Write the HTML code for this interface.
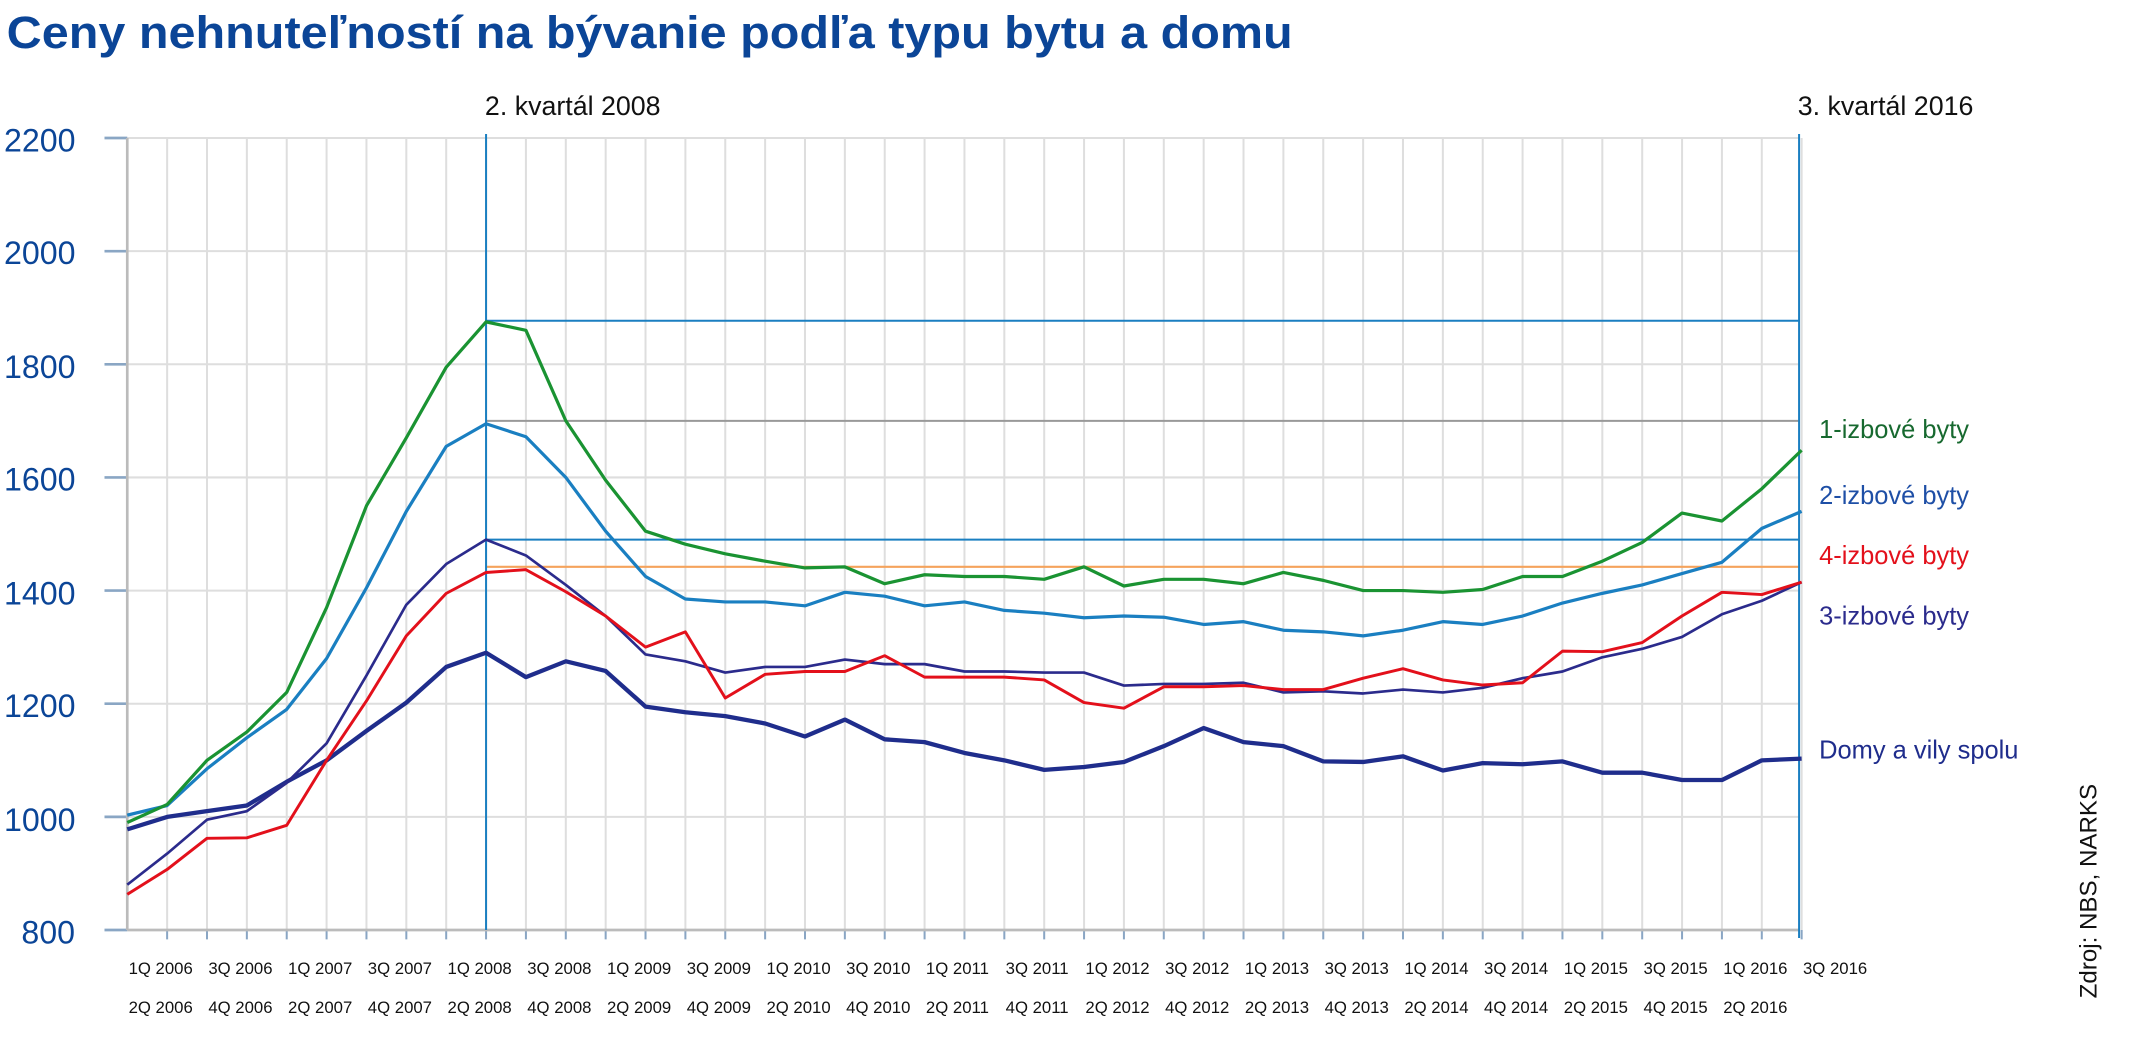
<!DOCTYPE html>
<html><head><meta charset="utf-8"><style>
html,body{margin:0;padding:0;background:#fff;width:2138px;height:1064px;overflow:hidden}
svg{display:block}
text{font-family:"Liberation Sans",sans-serif}
</style></head><body>
<svg id="c" width="2138" height="1064" viewBox="0 0 1596 794" preserveAspectRatio="none" xmlns="http://www.w3.org/2000/svg">
<text x="5" y="36" font-size="34" font-weight="bold" fill="#0b4597" textLength="960" lengthAdjust="spacingAndGlyphs">Ceny nehnuteľností na bývanie podľa typu bytu a domu</text>
<g id="grid"></g>
<g id="lines"></g>
<text x="362" y="86" font-size="20" fill="#111">2. kvartál 2008</text>
<text x="1342" y="86" font-size="20" fill="#111">3. kvartál 2016</text>
<g font-size="24" fill="#0b4597">
<text x="3" y="113">2200</text><text x="3" y="197">2000</text><text x="3" y="282">1800</text>
<text x="3" y="366">1600</text><text x="3" y="451">1400</text><text x="3" y="535">1200</text>
<text x="3" y="620">1000</text><text x="16" y="704">800</text>
</g>
<g font-size="19">
<text x="1358" y="327" fill="#17692f">1-izbové byty</text>
<text x="1358" y="376" fill="#1e4fa6">2-izbové byty</text>
<text x="1358" y="421" fill="#e3101b">4-izbové byty</text>
<text x="1358" y="466" fill="#2b2b8c">3-izbové byty</text>
<text x="1358" y="566" fill="#1f2d8c">Domy a vily spolu</text>
</g>
<text transform="translate(1565,665) rotate(-90)" font-size="18" fill="#111" text-anchor="middle">Zdroj: NBS, NARKS</text>
<g id="xl" font-size="12.5" fill="#111"></g>
</svg>
<script>
var NS="http://www.w3.org/2000/svg";
function X(i){return 95+i*29.76;}
function Y(v){return 103+(2200-v)*0.42214;}
function el(p,t,a,txt){var e=document.createElementNS(NS,t);for(var k in a)e.setAttribute(k,a[k]);if(txt)e.textContent=txt;document.getElementById(p).appendChild(e);return e;}
for(var i=1;i<=42;i++){el("grid","line",{x1:X(i),x2:X(i),y1:103,y2:694,stroke:"#dedede","stroke-width":1.5});
el("grid","line",{x1:X(i),x2:X(i),y1:694,y2:701,stroke:"#8aa6c4","stroke-width":1.5});}
for(var v=800;v<=2200;v+=200){el("grid","line",{x1:95,x2:1343,y1:Y(v),y2:Y(v),stroke:"#dedede","stroke-width":1.5});
el("grid","line",{x1:78,x2:95,y1:Y(v),y2:Y(v),stroke:"#8aa6c4","stroke-width":2});}
el("grid","line",{x1:95,x2:95,y1:103,y2:694,stroke:"#bbb","stroke-width":2});
el("grid","line",{x1:95,x2:1343,y1:694,y2:694,stroke:"#bbb","stroke-width":2});
var x9=X(9);
el("lines","line",{x1:x9,x2:1343,y1:Y(1877),y2:Y(1877),stroke:"#1a7fc1","stroke-width":1.5});
el("lines","line",{x1:x9,x2:1343,y1:Y(1700),y2:Y(1700),stroke:"#999","stroke-width":1.5});
el("lines","line",{x1:x9,x2:1343,y1:Y(1490),y2:Y(1490),stroke:"#1a7fc1","stroke-width":1.5});
el("lines","line",{x1:x9,x2:1343,y1:Y(1442),y2:Y(1442),stroke:"#f5a35c","stroke-width":1.5});
el("lines","line",{x1:x9,x2:x9,y1:100,y2:694,stroke:"#1a7fc1","stroke-width":1.5});
el("lines","line",{x1:1343,x2:1343,y1:100,y2:700,stroke:"#1a7fc1","stroke-width":1.5});
var S=[
["#1f2d8c",3.2,[978,1000,1010,1020,1062,1100,1152,1202,1265,1290,1247,1275,1258,1195,1185,1178,1165,1142,1172,1137,1132,1113,1100,1083,1088,1097,1125,1157,1132,1125,1098,1097,1107,1082,1095,1093,1098,1078,1078,1065,1065,1100,1103]],
["#2b2b8c",2,[880,935,995,1010,1060,1130,1250,1375,1447,1490,1462,1410,1355,1287,1275,1255,1265,1265,1278,1270,1270,1257,1257,1255,1255,1232,1235,1235,1237,1220,1222,1218,1225,1220,1228,1245,1257,1282,1297,1318,1358,1382,1415]],
["#e3101b",2.2,[863,907,962,963,985,1100,1205,1320,1395,1432,1437,1398,1355,1300,1327,1210,1252,1257,1257,1285,1247,1247,1247,1242,1202,1192,1230,1230,1232,1225,1225,1245,1262,1242,1233,1237,1293,1292,1308,1355,1397,1393,1415]],
["#1a7fc1",2.4,[1003,1020,1085,1140,1190,1280,1405,1540,1655,1695,1672,1600,1505,1425,1385,1380,1380,1373,1397,1390,1373,1380,1365,1360,1352,1355,1353,1340,1345,1330,1327,1320,1330,1345,1340,1355,1378,1395,1410,1430,1450,1510,1540]],
["#1a9332",2.4,[990,1022,1100,1150,1220,1370,1550,1670,1795,1875,1860,1700,1595,1505,1482,1465,1452,1440,1442,1412,1428,1425,1425,1420,1442,1408,1420,1420,1412,1432,1418,1400,1400,1397,1402,1425,1425,1452,1485,1537,1523,1580,1648]]];
S.forEach(function(s){var p=s[2].map(function(v,i){return X(i).toFixed(1)+","+Y(v).toFixed(1);}).join(" ");
el("lines","polyline",{points:p,fill:"none",stroke:s[0],"stroke-width":s[1],"stroke-linejoin":"round"});});
for(var i=0;i<=42;i++){var yr=2006+Math.floor(i/4),qq=(i%4)+1;var lab=qq+"Q "+yr;
var base=X(i-(i%2))+1;el("xl","text",{x:base,y:(i%2==0)?727:756},lab);}
</script>
</body></html>
